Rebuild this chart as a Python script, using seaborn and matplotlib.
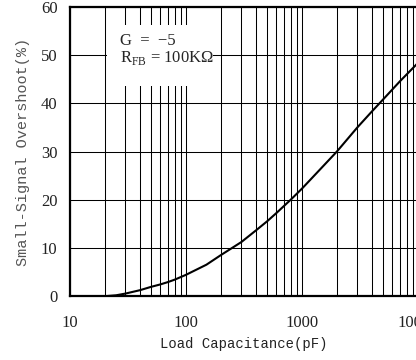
import matplotlib
matplotlib.use("Agg")
import matplotlib.pyplot as plt
from matplotlib.ticker import LogLocator, FixedLocator, NullFormatter
from matplotlib.patches import Rectangle
import seaborn as sns
import pandas as pd

# Load capacitance (pF) and small-signal overshoot (%)
load_cap_pf = [21, 25, 30, 40, 50, 60, 70, 80, 100, 150, 200, 300, 400, 500,
               600, 800, 1000, 1500, 2000, 3000, 4000, 5000, 7000, 10000]
overshoot_pct = [0.0, 0.15, 0.5, 1.2, 1.9, 2.4, 2.9, 3.4, 4.4, 6.5, 8.5, 11.2,
                 13.6, 15.5, 17.2, 20.0, 22.3, 26.8, 30.0, 35.0, 38.3, 40.8,
                 44.6, 48.4]

x_ticks = [10, 100, 1000, 10000]
x_tick_labels = ["10", "100", "1000", "10000"]
y_ticks = [0, 10, 20, 30, 40, 50, 60]

df = pd.DataFrame({"cap": load_cap_pf, "os": overshoot_pct})

sns.set_style("white")
plt.rcParams["mathtext.fontset"] = "custom"
plt.rcParams["mathtext.rm"] = "Liberation Serif"

fig = plt.figure(figsize=(4.16, 3.6), dpi=100)
ax = fig.add_axes([70 / 416, 64 / 360, 348 / 416, 289 / 360])

sns.lineplot(data=df, x="cap", y="os", ax=ax, color="black", linewidth=1.5)

ax.set_xscale("log")
ax.set_xlim(10, 10000)
ax.set_ylim(0, 60)

ax.xaxis.set_major_locator(FixedLocator(x_ticks))
ax.set_xticklabels(x_tick_labels)
ax.xaxis.set_minor_locator(LogLocator(base=10, subs=range(2, 10)))
ax.xaxis.set_minor_formatter(NullFormatter())
ax.set_yticks(y_ticks)

ax.grid(True, which="both", axis="x", color="black", linewidth=0.75)
ax.grid(True, which="major", axis="y", color="black", linewidth=0.75)
ax.set_axisbelow(True)

for lbl in ax.get_xticklabels() + ax.get_yticklabels():
    lbl.set_fontfamily("Liberation Serif")
    lbl.set_fontsize(12)
    lbl.set_color("#222222")
ax.tick_params(axis="x", which="both", length=0, pad=14)
ax.tick_params(axis="y", which="both", length=0, pad=9)

for s in ax.spines.values():
    s.set_visible(True)
    s.set_color("black")
    s.set_linewidth(1.6)

ax.set_xlabel("Load Capacitance(pF)", family="Liberation Mono", fontsize=10,
              color="#222222", labelpad=4)
ax.set_ylabel("Small-Signal Overshoot(%)", family="Liberation Mono", fontsize=11,
              color="#555555", labelpad=8)

# White panel behind the condition notes
ax.add_patch(Rectangle((0.106, 0.727), 0.305, 0.211, transform=ax.transAxes,
                       facecolor="white", edgecolor="none", zorder=2))
ax.text(0.144, 0.882, "G  =  \u22125", transform=ax.transAxes,
        family="Liberation Serif", fontsize=12, va="center", ha="left", zorder=3)
ax.text(0.144, 0.824, "R$_{\\mathrm{FB}}$ = 100K\u03a9",
        transform=ax.transAxes, family="Liberation Serif",
        fontsize=12, va="center", ha="left", zorder=3)

fig.savefig("out.png", dpi=100)
